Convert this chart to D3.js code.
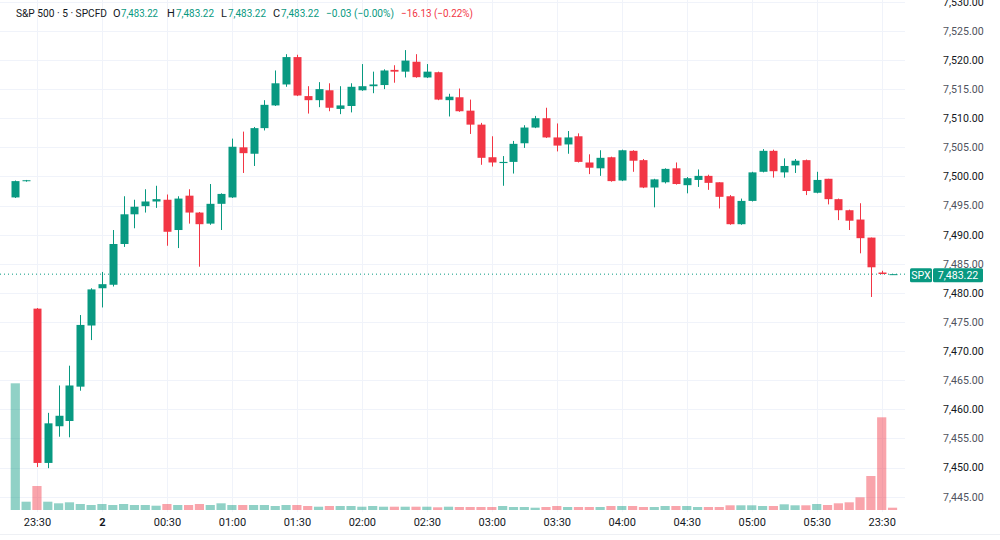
<!DOCTYPE html>
<html lang="en">
<head>
<meta charset="utf-8">
<title>S&amp;P 500 · 5 · SPCFD</title>
<script src="https://cdnjs.cloudflare.com/ajax/libs/d3/7.8.5/d3.min.js"></script>
<style>
  body { margin: 0; background: #fff; font-family: Roboto, "Noto Sans", sans-serif; }
  svg { display: block; background: #fff; }
  .grid line { stroke: #f0f3fa; shape-rendering: crispEdges; }
  .grid path { display: none; }
  .yaxis path, .xaxis path { display: none; }
  .yaxis text { font-size: 10.6px; fill: #131722; font-family: Roboto, sans-serif; }
  .yaxis .minor text { fill: #50535e; }
  .xaxis text { font-size: 11px; fill: #131722; font-family: Roboto, sans-serif; }
  .legend { font-size: 11px; font-family: Roboto, sans-serif; }
</style>
</head>
<body>
<script>
// 5 minute bars, 23:20 .. session end
var opens = [7496.4, 7499.2, 7477.3, 7450.8, 7457.1, 7458.0, 7463.9, 7474.4, 7480.8, 7481.4,
  7488.4, 7493.5, 7494.9, 7495.7, 7496.0, 7490.8, 7496.7, 7493.8, 7491.9, 7495.3,
  7496.4, 7505.0, 7503.9, 7508.3, 7512.2, 7515.8, 7520.5, 7513.8, 7513.1, 7514.8,
  7511.6, 7512.1, 7514.8, 7515.5, 7515.7, 7518.3, 7518.0, 7519.7, 7517.0, 7517.9,
  7513.1, 7513.6, 7511.3, 7508.9, 7503.3, 7502.3, 7502.5, 7505.7, 7508.4, 7510.0,
  7506.7, 7505.5, 7506.9, 7502.4, 7501.4, 7503.3, 7499.3, 7504.4, 7502.8, 7498.1,
  7499.0, 7501.4, 7498.5, 7499.4, 7500.1, 7499.0, 7496.6, 7491.8, 7495.8, 7500.8,
  7504.4, 7500.7, 7501.9, 7502.8, 7497.2, 7499.6, 7496.1, 7494.2, 7492.6, 7489.5,
  7483.5, 7483.22];
var highs = [7499.3, 7499.4, 7477.4, 7459.4, 7464.1, 7467.5, 7476.2, 7480.8, 7483.6, 7490.8,
  7496.6, 7496.0, 7497.8, 7498.4, 7496.9, 7496.6, 7497.8, 7493.9, 7498.7, 7497.1,
  7506.5, 7507.7, 7508.5, 7513.1, 7518.2, 7521.0, 7520.9, 7515.5, 7516.2, 7516.0,
  7515.5, 7516.0, 7519.3, 7518.0, 7518.4, 7519.1, 7521.7, 7521.0, 7519.3, 7518.0,
  7514.2, 7515.1, 7513.2, 7509.2, 7506.9, 7503.5, 7506.1, 7508.8, 7510.4, 7511.8,
  7509.1, 7507.8, 7507.4, 7503.8, 7504.5, 7503.4, 7504.6, 7504.5, 7503.0, 7499.6,
  7501.4, 7502.4, 7499.9, 7501.2, 7500.3, 7499.0, 7496.8, 7496.2, 7500.8, 7504.7,
  7504.6, 7503.1, 7503.0, 7502.9, 7500.8, 7499.6, 7496.2, 7494.3, 7495.4, 7489.5,
  7483.8, 7483.22];
var lows = [7496.3, 7499.1, 7450.1, 7449.9, 7455.3, 7455.2, 7463.2, 7471.9, 7477.5, 7481.1,
  7487.9, 7491.1, 7493.8, 7494.6, 7488.1, 7487.7, 7491.9, 7484.5, 7491.7, 7490.8,
  7496.3, 7500.6, 7501.8, 7507.9, 7512.1, 7515.4, 7513.8, 7510.8, 7511.9, 7511.2,
  7510.7, 7511.0, 7514.7, 7514.3, 7515.0, 7516.1, 7517.0, 7516.95, 7516.9, 7513.1,
  7510.3, 7511.1, 7507.3, 7502.0, 7501.7, 7498.4, 7500.5, 7504.9, 7508.3, 7506.6,
  7504.3, 7503.9, 7502.4, 7500.4, 7500.1, 7499.1, 7499.2, 7500.8, 7498.0, 7494.7,
  7498.8, 7498.6, 7497.1, 7498.2, 7497.7, 7494.5, 7491.7, 7491.7, 7495.7, 7500.7,
  7499.8, 7499.8, 7500.6, 7496.8, 7497.1, 7495.2, 7492.5, 7490.8, 7486.8, 7479.3,
  7483.2, 7483.22];
var closes = [7499.2, 7499.35, 7450.8, 7457.6, 7458.9, 7464.1, 7474.5, 7480.6, 7481.5, 7488.4,
  7493.5, 7494.8, 7495.7, 7496.1, 7490.5, 7496.2, 7493.8, 7491.8, 7495.3, 7497.0,
  7505.1, 7504.0, 7508.3, 7512.3, 7516.0, 7520.5, 7513.9, 7513.1, 7515.0, 7511.8,
  7512.2, 7515.4, 7515.5, 7515.8, 7518.2, 7518.0, 7519.9, 7517.05, 7518.0, 7513.2,
  7513.7, 7511.2, 7508.9, 7503.2, 7502.4, 7502.5, 7505.6, 7508.4, 7510.0, 7506.7,
  7505.3, 7506.7, 7502.5, 7501.5, 7503.2, 7499.2, 7504.5, 7502.7, 7498.1, 7499.5,
  7501.3, 7498.7, 7499.7, 7500.1, 7498.9, 7496.5, 7491.8, 7495.8, 7500.7, 7504.4,
  7500.9, 7501.8, 7502.7, 7497.5, 7499.4, 7496.1, 7494.2, 7492.4, 7489.4, 7484.4,
  7483.25, 7483.22];
var volumes = [12670, 830, 2400, 830, 670, 770, 600, 500, 600, 500,
  600, 500, 500, 430, 600, 500, 500, 600, 500, 670,
  500, 500, 500, 500, 400, 500, 500, 400, 330, 400,
  400, 400, 330, 400, 330, 330, 330, 330, 330, 270,
  330, 300, 300, 300, 300, 400, 300, 300, 230, 300,
  400, 300, 300, 300, 300, 400, 400, 400, 300, 300,
  400, 400, 400, 300, 300, 300, 470, 470, 470, 400,
  400, 570, 470, 470, 600, 500, 670, 770, 1270, 3400,
  9270, 230];

var tickIdx  = [2, 8, 14, 20, 26, 32, 38, 44, 50, 56, 62, 68, 74, 80];
var tickText = ["23:30", "2", "00:30", "01:00", "01:30", "02:00", "02:30", "03:00",
  "03:30", "04:00", "04:30", "05:00", "05:30", "23:30"];
var yTicks = [7445, 7450, 7455, 7460, 7465, 7470, 7475, 7480, 7485, 7490,
  7495, 7500, 7505, 7510, 7515, 7520, 7525, 7530];
var lastPrice = 7483.22;

var upColor = "#089981", downColor = "#f23645";
var fullwidth = 1000, fullheight = 540;
var plotRight = 905, plotBottom = 512, volBase = 510;

var svg = d3.select("body").append("svg")
  .attr("width", fullwidth)
  .attr("height", fullheight);

var x = d3.scaleLinear().domain([0, opens.length - 1]).range([15.3, 15.3 + 10.83 * (opens.length - 1)]);
var y = d3.scaleLinear().domain([7445, 7520]).range([496.7, 60]);
var yv = d3.scaleLinear().domain([0, d3.max(volumes)]).range([volBase, 383.3]);

// grid
svg.append("g")
  .attr("class", "grid")
  .attr("transform", "translate(" + plotRight + ",0)")
  .call(d3.axisLeft(y).tickValues(yTicks).tickSize(plotRight).tickFormat(""));

svg.append("g")
  .attr("class", "grid")
  .call(d3.axisTop(x).tickValues(tickIdx).tickSize(-plotBottom).tickFormat(""));

// bottom border
svg.append("line")
  .attr("x1", 0).attr("x2", fullwidth)
  .attr("y1", 534.5).attr("y2", 534.5)
  .attr("stroke", "#eef0f4");

var bars = d3.range(opens.length);

// volume
svg.append("g").selectAll("rect")
  .data(bars)
  .enter().append("rect")
  .attr("x", function(i) { return x(i) - 4.6; })
  .attr("width", 9.2)
  .attr("y", function(i) { return yv(volumes[i]); })
  .attr("height", function(i) { return volBase - yv(volumes[i]); })
  .attr("fill", function(i) {
    var prev = i > 0 ? closes[i - 1] : opens[i];
    return closes[i] >= prev ? "rgba(8,153,129,0.45)" : "rgba(242,54,69,0.45)";
  });

// last price dotted line
svg.append("line")
  .attr("x1", 0).attr("x2", plotRight)
  .attr("y1", y(lastPrice)).attr("y2", y(lastPrice))
  .attr("stroke", upColor)
  .attr("stroke-width", 1)
  .attr("stroke-dasharray", "1,3");

// candles
function col(i) { return closes[i] >= opens[i] ? upColor : downColor; }

var candles = svg.append("g").selectAll("g")
  .data(bars)
  .enter().append("g");

candles.append("line")
  .attr("x1", function(i) { return Math.round(x(i)) + 0.5; })
  .attr("x2", function(i) { return Math.round(x(i)) + 0.5; })
  .attr("y1", function(i) { return y(highs[i]); })
  .attr("y2", function(i) { return y(lows[i]); })
  .attr("stroke", col)
  .attr("stroke-width", 1);

candles.append("rect")
  .attr("x", function(i) { return Math.round(x(i)) - 3.5; })
  .attr("width", 8)
  .attr("y", function(i) { return y(Math.max(opens[i], closes[i])); })
  .attr("height", function(i) { return Math.max(1, Math.abs(y(opens[i]) - y(closes[i]))); })
  .attr("fill", col);

// x axis
svg.append("g")
  .attr("class", "xaxis")
  .attr("transform", "translate(0," + plotBottom + ")")
  .call(d3.axisBottom(x).tickValues(tickIdx).tickSize(0).tickPadding(6)
    .tickFormat(function(d, i) { return tickText[i]; }))
  .selectAll("text")
  .style("font-weight", function(d, i) { return tickText[i] === "2" ? "bold" : null; });

// y axis (right)
var yAxisG = svg.append("g")
  .attr("class", "yaxis")
  .attr("transform", "translate(943,0)")
  .call(d3.axisRight(y).tickValues(yTicks).tickSize(0).tickPadding(0).tickFormat(d3.format(",.2f")));
yAxisG.selectAll(".tick").classed("minor", function(d) { return d % 10 !== 0; });

// last price label
var py = y(lastPrice);
svg.append("rect").attr("x", 910).attr("y", py - 6).attr("width", 22).attr("height", 14).attr("rx", 1.5).attr("fill", upColor);
svg.append("rect").attr("x", 933).attr("y", py - 6).attr("width", 50).attr("height", 14).attr("rx", 1.5).attr("fill", upColor);
svg.append("text").attr("x", 921).attr("y", py + 4.8).attr("text-anchor", "middle")
  .attr("fill", "#fff").style("font-size", "10.6px").text("SPX");
svg.append("text").attr("x", 958).attr("y", py + 4.8).attr("text-anchor", "middle")
  .attr("fill", "#fff").style("font-size", "10.6px").text(d3.format(",.2f")(lastPrice));

// legend, placed piece by piece (widths fitted to the reference)
var legendParts = ["S&P 500 · 5 · SPCFD", "O", "7,483.22", "H", "7,483.22", "L", "7,483.22",
  "C", "7,483.22", "−0.03 (−0.00%)", "−16.13 (−0.22%)"];
var legendX = [16, 113, 121, 167, 176, 221, 228, 273, 281, 326, 401];
var legendW = [91, 0, 37, 0, 38, 0, 38, 0, 38, 68, 72];
var legendFill = ["#131722", "#131722", upColor, "#131722", upColor, "#131722", upColor,
  "#131722", upColor, upColor, downColor];

svg.append("g").attr("class", "legend").selectAll("text")
  .data(legendParts)
  .enter().append("text")
  .attr("x", function(d, i) { return legendX[i]; })
  .attr("y", 17)
  .attr("fill", function(d, i) { return legendFill[i]; })
  .attr("textLength", function(d, i) { return legendW[i] || null; })
  .attr("lengthAdjust", "spacingAndGlyphs")
  .text(function(d) { return d; });
</script>
</body>
</html>
